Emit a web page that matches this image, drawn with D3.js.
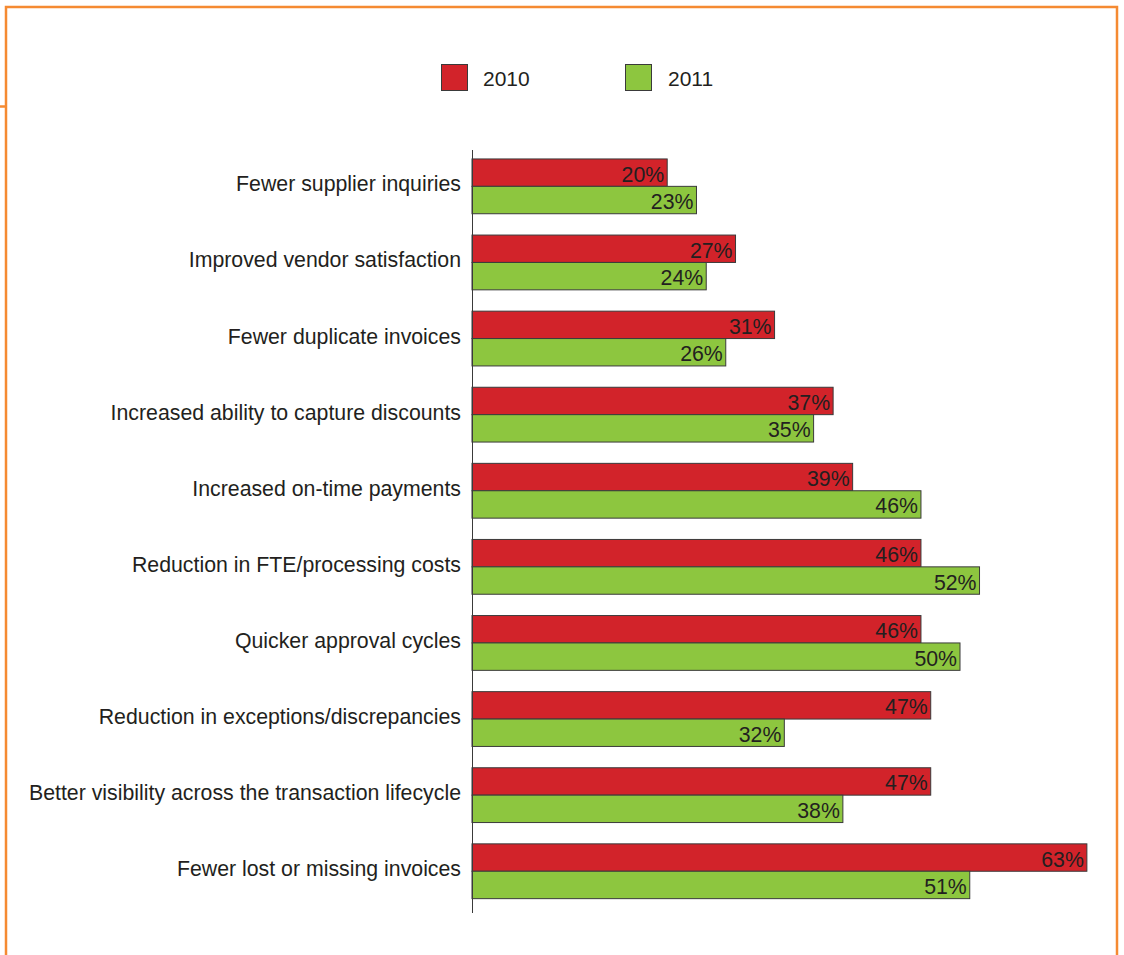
<!DOCTYPE html>
<html>
<head>
<meta charset="utf-8">
<script src="https://cdn.jsdelivr.net/npm/d3@7"></script>
<style>
  html, body { margin: 0; padding: 0; background: #fff; }
  svg { display: block; font-family: "Liberation Sans", Arial, Helvetica, sans-serif; }
</style>
</head>
<body>
<svg id="chart" width="1124" height="955"></svg>
<script>
const categories = [
  "Fewer supplier inquiries",
  "Improved vendor satisfaction",
  "Fewer duplicate invoices",
  "Increased ability to capture discounts",
  "Increased on-time payments",
  "Reduction in FTE/processing costs",
  "Quicker approval cycles",
  "Reduction in exceptions/discrepancies",
  "Better visibility across the transaction lifecycle",
  "Fewer lost or missing invoices"
];
const seriesNames = ["2010", "2011"];
const values2010 = [20, 27, 31, 37, 39, 46, 46, 47, 47, 63];
const values2011 = [23, 24, 26, 35, 46, 52, 50, 32, 38, 51];
const seriesColors = ["#d2232a", "#8dc63f"];

const svg = d3.select("#chart");
const textColor = "#231f20";
const frameColor = "#f58a32";

// Frame
svg.append("path")
  .attr("d", "M6,955 L6,7 L1117,7 L1117,955")
  .attr("fill", "none")
  .attr("stroke", frameColor)
  .attr("stroke-width", 2.5);
svg.append("line")
  .attr("x1", 0).attr("x2", 6).attr("y1", 106.5).attr("y2", 106.5)
  .attr("stroke", frameColor).attr("stroke-width", 2.5);

const x0 = 472;
const x = d3.scaleLinear().domain([0, 100]).range([x0, x0 + 976]);
const y = d3.scaleBand().domain(categories).range([148.3, 909.3])
  .paddingInner(0.28).paddingOuter(0.14);
const ySub = d3.scaleBand().domain(seriesNames).range([0, y.bandwidth()]);

const rows = categories.map((c, i) => ({ cat: c, vals: [values2010[i], values2011[i]] }));

const g = svg.append("g");
const rowG = g.selectAll("g.row").data(rows).enter().append("g")
  .attr("class", "row")
  .attr("transform", d => `translate(0,${y(d.cat)})`);

rowG.selectAll("rect").data(d => d.vals.map((v, j) => ({ v, s: seriesNames[j], j })))
  .enter().append("rect")
  .attr("x", x(0))
  .attr("y", d => ySub(d.s))
  .attr("width", d => x(d.v) - x(0))
  .attr("height", ySub.bandwidth())
  .attr("fill", d => seriesColors[d.j])
  .attr("stroke", "#3a3a3a")
  .attr("stroke-width", 1);

rowG.selectAll("text.val").data(d => d.vals.map((v, j) => ({ v, s: seriesNames[j], j })))
  .enter().append("text")
  .attr("class", "val")
  .attr("x", d => x(d.v) - 3)
  .attr("y", d => ySub(d.s) + ySub.bandwidth() / 2 + 9)
  .attr("text-anchor", "end")
  .attr("font-size", 21.3)
  .attr("fill", textColor)
  .text(d => d.v + "%");

// Category labels
g.selectAll("text.cat").data(categories).enter().append("text")
  .attr("class", "cat")
  .attr("x", 461)
  .attr("y", d => y(d) + y.bandwidth() / 2 + 5)
  .attr("text-anchor", "end")
  .attr("font-size", 21.3)
  .attr("fill", textColor)
  .text(d => d);

// Axis line
svg.append("line")
  .attr("x1", x0 + 0.5).attr("x2", x0 + 0.5)
  .attr("y1", 150).attr("y2", 913)
  .attr("stroke", "#3a3a3a").attr("stroke-width", 1);

// Legend
const legendX = [441, 625];
const legend = svg.selectAll("g.leg").data(seriesNames).enter().append("g")
  .attr("class", "leg")
  .attr("transform", (d, i) => `translate(${legendX[i]},64)`);
legend.append("rect")
  .attr("x", 0.5).attr("y", 0.5).attr("width", 26).attr("height", 26)
  .attr("fill", (d, i) => seriesColors[i])
  .attr("stroke", "#3a3a3a").attr("stroke-width", 1);
legend.append("text")
  .attr("x", (d, i) => i === 0 ? 42 : 43)
  .attr("y", 22)
  .attr("font-size", 21)
  .attr("fill", textColor)
  .text(d => d);
</script>
</body>
</html>
